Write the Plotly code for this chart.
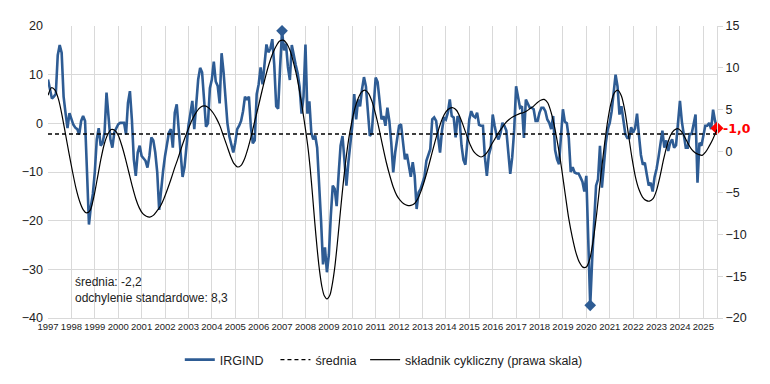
import plotly.graph_objects as go

# IRGIND monthly values, Jan 1997 .. Aug 2025 (left scale)
irgind_by_year = {
    1997: [9.0, 7.3, 5.1, 5.5, 6.0, 14.0, 16.1, 14.5, 5.5, 2.1, -1.0, 2.1],
    1998: [0.8, -0.3, -0.9, -1.2, -2.3, 0.5, 1.5, 0.5, -10.0, -20.8, -17.0, -14.5],
    1999: [-10.0, -3.3, -1.0, -4.6, -4.0, -1.9, 6.3, 2.2, -3.3, -5.0, -1.9, -1.0],
    2000: [-0.2, 0.1, 0.1, 0.1, -2.3, 4.2, 6.6, 0.8, -7.4, -10.8, -6.0, -4.6],
    2001: [-6.7, -7.1, -7.7, -9.1, -6.7, -2.9, -3.5, -6.0, -10.0, -17.8, -13.5, -9.8],
    2002: [-6.7, -4.0, -1.9, -1.2, -5.0, 2.2, 3.9, -1.2, -6.0, -11.0, -9.0, -4.0],
    2003: [-0.5, 2.0, 4.6, -1.2, 3.5, 9.0, 11.4, 10.5, 5.0, -0.7, 0.0, 7.2],
    2004: [9.0, 12.7, 8.6, 7.7, 4.1, 14.4, 10.6, 4.1, 0.0, -2.7, -4.5, -6.0],
    2005: [-4.0, -1.2, -0.5, 0.5, 2.5, 5.5, 4.8, 5.5, -0.7, -4.1, -3.5, 6.0],
    2006: [8.0, 11.5, 8.0, 12.5, 16.2, 14.6, 15.3, 17.3, 12.0, 3.5, 3.0, 11.5],
    2007: [19.0, 15.0, 16.4, 11.6, 8.9, 16.1, 13.7, 12.0, 10.3, 7.5, 2.0, 5.5],
    2008: [16.2, 2.0, 4.5, -1.9, -3.3, -2.5, -5.0, -11.6, -20.0, -29.0, -25.5, -30.6],
    2009: [-27.0, -19.0, -12.8, -13.5, -17.0, -10.5, -4.6, -2.6, -7.0, -12.8, -8.0, -4.6],
    2010: [-0.5, 6.0, 0.8, 4.9, 3.5, 7.0, 9.5, 7.6, 2.2, -2.6, -2.0, 4.2],
    2011: [9.4, 8.5, 4.0, 0.8, 1.5, -0.5, 3.2, 0.5, -4.0, -10.1, -6.0, -2.8],
    2012: [-0.5, -0.2, -4.6, -7.4, -6.3, -8.7, -11.0, -8.0, -10.8, -17.6, -14.2, -13.5],
    2013: [-12.2, -11.0, -7.7, -6.7, -5.3, 0.8, 1.2, 0.5, -3.0, -6.0, -1.5, 1.2],
    2014: [0.8, 2.2, 4.9, 1.5, 1.2, -2.9, 1.5, 0.8, -4.5, -7.5, -8.5, -4.0],
    2015: [0.8, 2.5, 1.5, 1.2, 2.2, -0.3, -0.5, -0.5, -7.0, -10.8, -6.5, -5.0],
    2016: [1.8, -0.5, -2.5, -3.3, -2.0, 0.1, -0.5, -1.5, -7.0, -10.4, -7.0, -1.5],
    2017: [7.6, 4.9, 3.2, 3.5, -3.0, 4.9, 4.2, 3.2, 3.2, 2.9, 0.5, 0.5],
    2018: [2.2, 3.2, 3.2, 2.5, 0.8, 0.1, -1.2, 1.5, -5.5, -7.4, -8.4, -3.0],
    2019: [2.9, 0.3, 0.0, -3.0, -10.0, -9.0, -10.1, -10.3, -10.3, -11.1, -12.0, -14.0],
    2020: [-10.8, -24.0, -37.4, -28.0, -20.5, -12.8, -11.5, -4.6, -13.2, -8.0, -4.0, -1.2],
    2021: [0.1, 2.5, 6.0, 10.0, 7.6, 1.8, 3.5, 0.5, -2.2, -3.0, -3.0, -0.8],
    2022: [-1.9, -1.0, 2.0, -2.5, -6.5, -8.5, -8.1, -10.5, -12.8, -12.2, -14.0, -11.0],
    2023: [-9.4, -7.0, -4.6, -1.5, -5.0, -3.5, -5.7, -4.0, -3.3, -5.0, -4.5, 1.0],
    2024: [4.6, 0.3, -2.5, -5.0, -5.0, -2.2, -2.2, -0.5, 1.8, -12.2, -4.0, -4.6],
    2025: [-2.6, -0.5, -0.5, 0.1, -1.2, 2.8, 0.5, -1.0],
}

# cyclical component (right scale), read at fractional-year points
cyc_x = [1997.00, 1997.15, 1997.30, 1997.45, 1997.60, 1997.75, 1997.90, 1998.05, 1998.20, 1998.35,
         1998.50, 1998.65, 1998.80, 1998.95, 1999.10, 1999.25, 1999.40, 1999.55, 1999.70, 1999.85,
         2000.00, 2000.15, 2000.30, 2000.45, 2000.60, 2000.75, 2000.90, 2001.05, 2001.20, 2001.35,
         2001.50, 2001.65, 2001.80, 2001.95, 2002.10, 2002.25, 2002.40, 2002.55, 2002.70, 2002.85,
         2003.00, 2003.15, 2003.30, 2003.45, 2003.60, 2003.75, 2003.90, 2004.05, 2004.20, 2004.35,
         2004.50, 2004.65, 2004.80, 2004.95, 2005.10, 2005.25, 2005.40, 2005.55, 2005.70, 2005.85,
         2006.00, 2006.15, 2006.30, 2006.45, 2006.60, 2006.75, 2006.90, 2007.05, 2007.20, 2007.35,
         2007.50, 2007.65, 2007.80, 2007.95, 2008.10, 2008.20, 2008.30, 2008.40, 2008.50, 2008.60,
         2008.70, 2008.80, 2008.92, 2009.05, 2009.15, 2009.25, 2009.35, 2009.45, 2009.55, 2009.65,
         2009.75, 2009.85, 2009.95, 2010.10, 2010.25, 2010.40, 2010.55, 2010.70, 2010.85, 2011.00,
         2011.15, 2011.30, 2011.45, 2011.60, 2011.75, 2011.90, 2012.05, 2012.20, 2012.35, 2012.50,
         2012.65, 2012.80, 2012.95, 2013.10, 2013.25, 2013.40, 2013.55, 2013.70, 2013.85, 2014.00,
         2014.15, 2014.30, 2014.45, 2014.60, 2014.75, 2014.90, 2015.05, 2015.20, 2015.35, 2015.50,
         2015.65, 2015.80, 2015.95, 2016.10, 2016.25, 2016.40, 2016.55, 2016.70, 2016.85, 2017.00,
         2017.15, 2017.30, 2017.45, 2017.60, 2017.75, 2017.90, 2018.05, 2018.20, 2018.35, 2018.50,
         2018.65, 2018.80, 2018.95, 2019.10, 2019.25, 2019.40, 2019.55, 2019.70, 2019.85, 2020.00,
         2020.15, 2020.30, 2020.45, 2020.60, 2020.75, 2020.90, 2021.05, 2021.20, 2021.35, 2021.50,
         2021.65, 2021.80, 2021.95, 2022.10, 2022.25, 2022.40, 2022.55, 2022.70, 2022.85, 2023.00,
         2023.15, 2023.30, 2023.45, 2023.60, 2023.75, 2023.90, 2024.05, 2024.20, 2024.35, 2024.50,
         2024.65, 2024.80, 2024.95, 2025.10, 2025.25, 2025.40, 2025.583]
cyc_y = [6.7, 7.6, 7.3, 6.2, 4.3, 2.0, -0.3, -2.5, -4.5, -6.0,
         -7.0, -7.4, -7.1, -5.6, -3.4, -1.1, 0.8, 2.0, 2.6, 2.5,
         1.9, 0.7, -0.8, -2.5, -4.2, -5.7, -6.8, -7.5, -7.8, -7.9,
         -7.7, -7.2, -6.6, -5.7, -4.6, -3.4, -2.1, -0.9, 0.4, 1.6,
         2.7, 3.7, 4.5, 5.1, 5.4, 5.4, 5.1, 4.6, 3.9, 3.0,
         1.8, 0.6, -0.6, -1.5, -1.9, -1.7, -0.9, 0.4, 2.0, 3.8,
         5.5, 7.3, 9.0, 10.5, 11.7, 12.6, 13.2, 13.3, 12.9, 12.0,
         10.5, 8.7, 6.3, 3.6, 0.6, -2.0, -5.2, -8.6, -11.7, -14.3,
         -16.2, -17.3, -17.7, -17.2, -15.9, -14.0, -11.4, -8.5, -5.6, -2.9,
         -0.5, 1.5, 3.1, 5.0, 6.3, 7.1, 7.3, 6.9, 5.9, 4.4,
         2.6, 0.6, -1.3, -2.9, -4.3, -5.3, -5.9, -6.3, -6.5, -6.5,
         -6.3, -5.7, -4.7, -3.4, -1.9, -0.3, 1.3, 2.7, 3.9, 4.7,
         5.1, 5.2, 4.9, 4.1, 3.0, 1.8, 0.7, -0.1, -0.5, -0.7,
         -0.5, 0.0, 0.8, 1.5, 2.2, 2.8, 3.4, 3.8, 4.1, 4.3,
         4.5, 4.6, 4.8, 5.1, 5.4, 5.8, 6.1, 6.2, 5.8, 4.6,
         2.8, 0.5, -2.2, -5.2, -8.1, -10.3, -12.1, -13.3, -13.9, -13.9,
         -12.9, -10.6, -7.3, -3.5, 0.2, 3.4, 5.7, 7.0, 7.3, 6.6,
         4.8, 2.0, -0.8, -3.1, -4.6, -5.5, -5.9, -6.0, -5.7, -4.7,
         -3.0, -1.0, 0.7, 1.9, 2.5, 2.7, 2.4, 1.7, 0.9, 0.2,
         -0.2, -0.4, -0.5, -0.1, 0.6, 1.4, 2.6]

mean_value = -2.2
std_value = 8.3
last_label = "-1,0"
year_ticks = list(range(1997, 2026))
legend_names = ["IRGIND", "średnia", "składnik cykliczny (prawa skala)"]

irg_x, irg_y = [], []
for yr, vals in irgind_by_year.items():
    for m, v in enumerate(vals):
        irg_x.append(yr + m / 12)
        irg_y.append(v)

BLUE = "#2E5C94"
i_max = irg_y.index(max(irg_y))
i_min = irg_y.index(min(irg_y))

fig = go.Figure()
fig.add_trace(go.Scatter(x=irg_x, y=irg_y, mode="lines", name=legend_names[0], legend="legend",
                         line=dict(color=BLUE, width=2.6)))
fig.add_trace(go.Scatter(x=[irg_x[0], irg_x[-1]], y=[mean_value, mean_value], mode="lines",
                         name=legend_names[1], legend="legend2",
                         line=dict(color="black", width=1.4, dash="4px,3px")))
fig.add_trace(go.Scatter(x=cyc_x, y=cyc_y, mode="lines", name=legend_names[2], yaxis="y2",
                         legend="legend3",
                         line=dict(color="black", width=1.2, shape="spline", smoothing=0.8)))
fig.add_trace(go.Scatter(x=[irg_x[i_max], irg_x[i_min]], y=[irg_y[i_max], irg_y[i_min]],
                         mode="markers", showlegend=False, cliponaxis=False,
                         marker=dict(symbol="diamond", size=9, color=BLUE)))
fig.add_trace(go.Scatter(x=[irg_x[-1]], y=[irg_y[-1]], mode="markers", showlegend=False,
                         cliponaxis=False, marker=dict(symbol="diamond", size=10, color="#FF0000")))

fig.add_annotation(xref="paper", yref="y", x=1, y=irg_y[-1], xshift=4, xanchor="left",
                   text="<b>" + last_label + "</b>", showarrow=False,
                   font=dict(color="#FF0000", size=12.5, family="DejaVu Sans"))
fig.add_annotation(xref="paper", yref="paper", x=0.038, y=0.095, xanchor="left", yanchor="middle",
                   align="left", showarrow=False,
                   text=f"średnia: {str(mean_value).replace('.', ',')}<br>odchylenie standardowe: {str(std_value).replace('.', ',')}",
                   font=dict(size=12, color="#222", family="Liberation Sans"))

GRID = "#D9D9D9"
leg_common = dict(orientation="h", y=-0.144, yanchor="middle", xanchor="left",
                  font=dict(size=12.5), bgcolor="rgba(0,0,0,0)")
fig.update_layout(
    width=762, height=376, margin=dict(l=40, r=53, t=18, b=66, autoexpand=False),
    plot_bgcolor="white", paper_bgcolor="white",
    font=dict(family="Liberation Sans", color="#222"),
    xaxis=dict(range=[1997, irg_x[-1]], tickvals=year_ticks, ticktext=[str(y) for y in year_ticks],
               showgrid=True, gridcolor=GRID, gridwidth=1, zeroline=False, automargin=False,
               tickfont=dict(size=9.5), ticks="", showline=True, linecolor=GRID),
    yaxis=dict(range=[-40, 20], dtick=10, showgrid=True, gridcolor=GRID, gridwidth=1,
               zeroline=False, tickfont=dict(size=12.5), ticks="", automargin=False,
               ticklabelstandoff=4),
    yaxis2=dict(range=[-20, 15], dtick=5, overlaying="y", side="right", showgrid=False,
                zeroline=False, tickfont=dict(size=12.5), showline=True, linecolor=GRID,
                ticks="outside", ticklen=5, tickcolor=GRID, automargin=False),
    legend=dict(x=0.197, **leg_common),
    legend2=dict(x=0.34, **leg_common),
    legend3=dict(x=0.474, **leg_common),
    showlegend=True,
)

fig.write_html("out.html")
